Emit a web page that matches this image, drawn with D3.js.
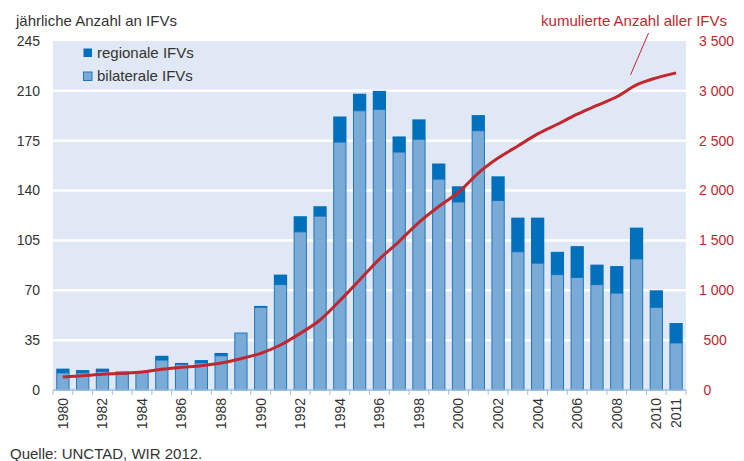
<!DOCTYPE html>
<html>
<head>
<meta charset="utf-8">
<script src="https://cdn.jsdelivr.net/npm/d3@7/dist/d3.min.js"></script>
<style>
  body { margin: 0; background: #fff; }
  text { font-family: "Liberation Sans", Arial, sans-serif; }
</style>
</head>
<body>
<svg id="chart" width="744" height="461"></svg>
<script>
// years on the x axis
const years = [1980, 1981, 1982, 1983, 1984, 1985, 1986, 1987, 1988, 1989,
  1990, 1991, 1992, 1993, 1994, 1995, 1996, 1997, 1998, 1999,
  2000, 2001, 2002, 2003, 2004, 2005, 2006, 2007, 2008, 2009, 2010, 2011];

// bilateral IFVs per year (light part of bar)
const bilateral = [12, 12, 13, 11, 13, 21, 18, 19, 24, 40,
  58, 74, 111, 122, 174, 196, 197, 167, 176, 148,
  132, 182, 133, 97, 89, 81, 79, 74, 68, 92, 58, 33];

// regional IFVs per year (dark part stacked on top)
const regional = [3, 2, 2, 2, 0, 3, 1, 2, 2, 0,
  1, 7, 11, 7, 18, 12, 13, 11, 14, 11,
  11, 11, 17, 24, 32, 16, 22, 14, 19, 22, 12, 14];

// cumulative number of all IFVs (right axis)
const cumulative = [130, 143, 157, 167, 180, 207, 227, 244, 271, 314,
  368, 451, 568, 702, 896, 1103, 1313, 1491, 1681, 1840,
  1983, 2176, 2326, 2447, 2568, 2665, 2766, 2854, 2941, 3060, 3130, 3180];

const leftTicks = [0, 35, 70, 105, 140, 175, 210, 245];
const rightTicks = [0, 500, 1000, 1500, 2000, 2500, 3000, 3500];
const labelYears = [1980, 1982, 1984, 1986, 1988, 1990, 1992, 1994, 1996, 1998,
  2000, 2002, 2004, 2006, 2008, 2010, 2011];

const box = { left: 53, right: 686, top: 41, bottom: 390 };

const col = {
  bg: "#e1e8f5",
  bil: "#7aaad6",
  bilStroke: "#1f77c0",
  reg: "#0070bd",
  red: "#c1272f",
  axis: "#9dbde3",
  text: "#333"
};

const svg = d3.select("#chart");

const x = d3.scaleBand().domain(years)
  .range([box.left, box.right]).paddingInner(0.38).paddingOuter(0.19);
const y = d3.scaleLinear().domain([0, 245]).range([box.bottom, box.top]);
const yR = d3.scaleLinear().domain([0, 3500]).range([box.bottom, box.top]);

const rows = years.map((yr, i) => ({
  year: yr, bil: bilateral[i], reg: regional[i], cum: cumulative[i]
}));

// plot background
svg.append("rect")
  .attr("x", box.left).attr("y", box.top)
  .attr("width", box.right - box.left).attr("height", box.bottom - box.top)
  .style("fill", col.bg);

// white gridlines
svg.append("g").selectAll("line")
  .data(leftTicks.filter(d => d > 0 && d < 245))
  .join("line")
  .attr("x1", box.left).attr("x2", box.right)
  .attr("y1", d => y(d)).attr("y2", d => y(d))
  .style("stroke", "#fff").style("stroke-width", 2.5);

// legend
const lg = svg.append("g");
lg.append("rect").attr("x", 83.5).attr("y", 48.5).attr("width", 8.5).attr("height", 8.5)
  .style("fill", col.reg);
lg.append("text").attr("x", 97).attr("y", 57.5).text("regionale IFVs")
  .style("font-size", "15px").style("fill", col.text);
lg.append("rect").attr("x", 83.5).attr("y", 72).attr("width", 8.5).attr("height", 8.5)
  .style("fill", col.bil).style("stroke", col.bilStroke).style("stroke-width", 1);
lg.append("text").attr("x", 97).attr("y", 81).text("bilaterale IFVs")
  .style("font-size", "15px").style("fill", col.text);

// bars
const bars = svg.append("g");
bars.selectAll(".bil")
  .data(rows)
  .join("rect").attr("class", "bil")
  .attr("x", d => x(d.year)).attr("width", x.bandwidth())
  .attr("y", d => y(d.bil)).attr("height", d => y(0) - y(d.bil))
  .style("fill", col.bil).style("stroke", col.bilStroke).style("stroke-width", 1);
bars.selectAll(".reg")
  .data(rows.filter(d => d.reg > 0))
  .join("rect").attr("class", "reg")
  .attr("x", d => x(d.year) - 0.5).attr("width", x.bandwidth() + 1)
  .attr("y", d => y(d.bil + d.reg)).attr("height", d => y(d.bil) - y(d.bil + d.reg))
  .style("fill", col.reg);

// x axis line and ticks at band boundaries
const step = x.step();
const xa = svg.append("g");
xa.append("line")
  .attr("x1", box.left).attr("x2", box.right)
  .attr("y1", box.bottom).attr("y2", box.bottom)
  .style("stroke", col.axis).style("stroke-width", 1.5);
xa.selectAll(".tick")
  .data(years.concat([2012]))
  .join("line").attr("class", "tick")
  .attr("x1", (d, i) => box.left + i * step).attr("x2", (d, i) => box.left + i * step)
  .attr("y1", box.bottom).attr("y2", box.bottom + 5)
  .style("stroke", col.axis).style("stroke-width", 1);
xa.selectAll(".lbl")
  .data(labelYears)
  .join("text").attr("class", "lbl")
  .attr("transform", d => `translate(${x(d) + x.bandwidth() / 2},398) rotate(-90)`)
  .attr("dy", "0.35em")
  .style("text-anchor", "end")
  .style("font-size", "14px").style("fill", col.text)
  .text(d => d);

// left axis labels
svg.append("g").selectAll("text")
  .data(leftTicks)
  .join("text")
  .attr("x", 40).attr("y", d => y(d)).attr("dy", "0.35em")
  .style("text-anchor", "end").style("font-size", "14px").style("fill", col.text)
  .text(d => d);

// right axis labels
const fmt = d3.formatLocale({ decimal: ",", thousands: " ", grouping: [3], currency: ["", ""] }).format(",");
svg.append("g").selectAll("text")
  .data(rightTicks)
  .join("text")
  .attr("x", d => d < 1000 ? 703.5 : 699).attr("y", d => yR(d)).attr("dy", "0.35em")
  .style("text-anchor", "start").style("font-size", "14px").style("fill", col.red)
  .text(d => fmt(d));

// cumulative line
const line = d3.line()
  .x(d => x(d.year) + x.bandwidth() / 2)
  .y(d => yR(d.cum))
  .curve(d3.curveMonotoneX);
svg.append("path")
  .datum(rows)
  .attr("d", line)
  .style("fill", "none").style("stroke", col.red).style("stroke-width", 3);

// annotation
const ax = x(2009) + x.bandwidth() / 2;
svg.append("line")
  .attr("x1", ax - 6).attr("y1", yR(3060) - 10)
  .attr("x2", ax + 12).attr("y2", 33)
  .style("stroke", col.red).style("stroke-width", 1);
svg.append("text")
  .attr("x", 727).attr("y", 26)
  .style("text-anchor", "end").style("font-size", "15px").style("fill", col.red)
  .text("kumulierte Anzahl aller IFVs");

// titles
svg.append("text").attr("x", 16).attr("y", 26)
  .style("font-size", "15px").style("fill", col.text)
  .text("jährliche Anzahl an IFVs");
svg.append("text").attr("x", 10).attr("y", 459)
  .style("font-size", "15px").style("fill", col.text)
  .text("Quelle: UNCTAD, WIR 2012.");
</script>
</body>
</html>
